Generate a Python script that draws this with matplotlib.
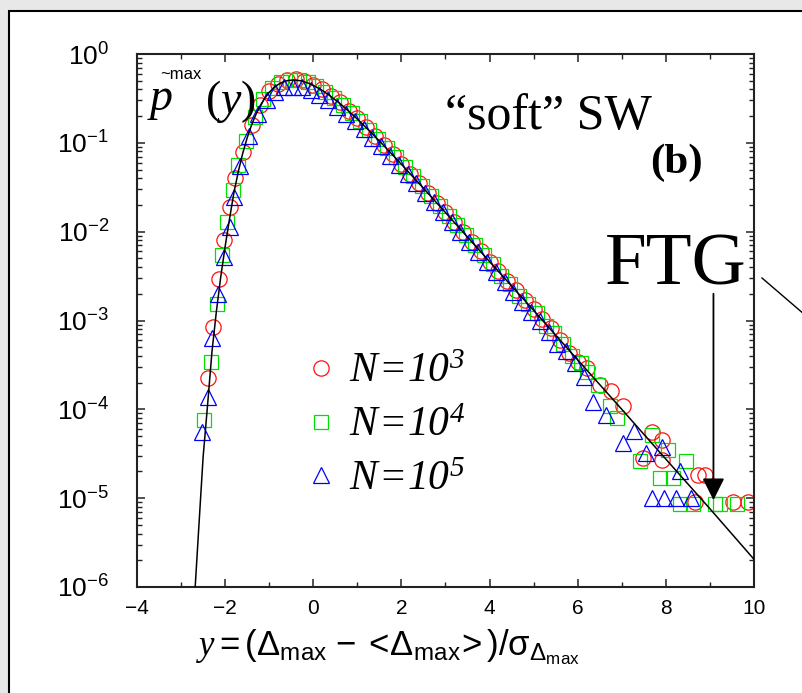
import matplotlib
matplotlib.use('Agg')
import matplotlib.pyplot as plt
from matplotlib.lines import Line2D
from matplotlib.patches import Rectangle
from matplotlib.ticker import LogLocator, MultipleLocator, NullFormatter

plt.rcParams['font.family'] = ['Liberation Sans', 'DejaVu Sans']
plt.rcParams['mathtext.fontset'] = 'custom'
plt.rcParams['mathtext.rm'] = 'Liberation Serif:italic'
plt.rcParams['mathtext.sf'] = 'Liberation Sans'
plt.rcParams['mathtext.it'] = 'Liberation Serif:italic'
plt.rcParams['mathtext.bf'] = 'Liberation Serif:bold'

# FTG curve
fit_x = [-2.72, -2.68, -2.6, -2.5, -2.4, -2.3, -2.2, -2.1, -2.0, -1.9, -1.8, -1.7, -1.6, -1.5,
         -1.4, -1.3, -1.2, -1.1, -1.0, -0.9, -0.8, -0.7, -0.6, -0.5, -0.4, -0.3, -0.2, -0.1,
         0.0, 0.2, 0.4, 0.6, 0.8, 1.0, 1.2, 1.4, 1.6, 1.8, 2.0, 2.5, 3.0, 4.0, 5.0, 6.0, 7.0,
         8.0, 9.0, 10.0]
fit_y = [6e-7, 1e-6, 4.5e-6, 2.9e-5, 1.1e-4, 4.4e-4, 1.25e-3, 3.1e-3, 6.8e-3, 0.014, 0.0276,
         0.0478, 0.0766, 0.114, 0.159, 0.210, 0.265, 0.319, 0.370, 0.416, 0.453, 0.481, 0.500,
         0.508, 0.508, 0.501, 0.486, 0.467, 0.444, 0.390, 0.333, 0.278, 0.228, 0.185, 0.148,
         0.118, 0.093, 0.0731, 0.0573, 0.0308, 0.0164, 4.6e-3, 1.3e-3, 3.6e-4, 1.0e-4, 2.75e-5,
         7.6e-6, 2.05e-6]

# N = 10^3
red_x = [-2.39, -2.28, -2.14, -2.03, -1.89, -1.78, -1.6, -1.4, -1.2, -1.0, -0.8, -0.6, -0.4,
         -0.2, 0.0, 0.2, 0.4, 0.6, 0.8, 1.0, 1.2, 1.4, 1.6, 1.8, 2.0, 2.2, 2.4, 2.6, 2.8, 3.0,
         3.2, 3.4, 3.6, 3.8, 4.0, 4.2, 4.4, 4.6, 4.8, 5.0, 5.2, 5.4, 5.6, 5.8, 6.0, 6.2,
         6.51, 6.75, 7.03, 7.48, 7.69, 7.91, 7.91, 8.66, 8.73, 8.89, 9.52, 9.86]
red_y = [2.25e-4, 8.5e-4, 2.9e-3, 8.1e-3, 0.019, 0.040, 0.078, 0.16, 0.27, 0.38, 0.46, 0.51,
         0.52, 0.50, 0.45, 0.40, 0.34, 0.285, 0.23, 0.19, 0.15, 0.12, 0.094, 0.074, 0.058,
         0.045, 0.035, 0.027, 0.021, 0.0165, 0.0128, 0.0099, 0.0077, 0.0060, 0.0046, 0.0036,
         0.0028, 0.0022, 0.0017, 0.00135, 1.05e-3, 8.2e-4, 6.0e-4, 4.3e-4, 3.4e-4, 2.9e-4,
         1.9e-4, 1.6e-4, 1.1e-4, 2.8e-5, 5.5e-5, 4.5e-5, 2.7e-5, 9e-6, 1.8e-5, 1.8e-5, 9e-6, 9e-6]

# N = 10^4
green_x = [-2.48, -2.32, -2.185, -2.07, -1.96, -1.82, -1.71, -1.53, -1.33, -1.13, -0.93, -0.73,
           -0.53, -0.33, -0.13, 0.07, 0.27, 0.47, 0.67, 0.87, 1.07, 1.27, 1.47, 1.67, 1.87,
           2.07, 2.27, 2.47, 2.67, 2.87, 3.07, 3.27, 3.47, 3.67, 3.87, 4.07, 4.27, 4.47, 4.67,
           4.87, 5.07, 5.27, 5.47, 5.67, 5.87, 6.07, 6.21, 6.45, 6.73, 6.89, 7.41, 7.69, 7.87,
           8.05, 8.16, 8.32, 8.46, 8.62, 9.12, 9.23, 9.61]
green_y = [7.6e-5, 3.4e-4, 1.55e-3, 5.5e-3, 0.0129, 0.0295, 0.056, 0.104, 0.197, 0.31, 0.41,
           0.48, 0.515, 0.51, 0.485, 0.435, 0.375, 0.32, 0.265, 0.215, 0.175, 0.14, 0.111,
           0.087, 0.069, 0.054, 0.042, 0.0325, 0.025, 0.0195, 0.0152, 0.0118, 0.0092, 0.0071,
           0.0055, 0.0043, 0.0032, 0.0026, 0.0019, 0.00155, 1.2e-3, 8.6e-4, 7.2e-4, 5.5e-4,
           4.0e-4, 3.3e-4, 2.6e-4, 1.9e-4, 1.1e-4, 8e-5, 2.6e-5, 5.1e-5, 1.7e-5, 3.5e-5, 1.7e-5,
           8.6e-6, 2.6e-5, 8.6e-6, 8.6e-6, 8.6e-6, 8.6e-6]

# N = 10^5
blue_x = [-2.525, -2.39, -2.30, -2.16, -2.03, -1.89, -1.80, -1.66, -1.46, -1.26, -1.06, -0.86,
          -0.66, -0.46, -0.26, -0.06, 0.14, 0.34, 0.54, 0.74, 0.94, 1.14, 1.34, 1.54, 1.74,
          1.94, 2.14, 2.34, 2.54, 2.74, 2.94, 3.14, 3.34, 3.54, 3.74, 3.94, 4.14, 4.34, 4.54,
          4.74, 4.94, 5.14, 5.34, 5.54, 5.74, 5.94, 6.14, 6.35, 6.64, 7.03, 7.28, 7.55, 7.91,
          8.32, 7.68, 7.95, 8.22, 8.58]
blue_y = [5.6e-5, 1.38e-4, 6.3e-4, 2.0e-3, 5.2e-3, 0.0112, 0.0245, 0.055, 0.12, 0.21, 0.30,
          0.37, 0.42, 0.43, 0.42, 0.39, 0.35, 0.30, 0.255, 0.212, 0.175, 0.142, 0.114, 0.091,
          0.072, 0.057, 0.045, 0.035, 0.0275, 0.0213, 0.0166, 0.0128, 0.0098, 0.0076, 0.0059,
          0.0046, 0.0035, 0.0027, 0.0021, 0.0016, 0.00125, 9.8e-4, 7.4e-4, 5.5e-4, 4.5e-4,
          3.3e-4, 2.3e-4, 1.2e-4, 8.7e-5, 4.2e-5, 5.7e-5, 3.2e-5, 3.8e-5, 2e-5, 1e-5, 1e-5,
          1e-5, 1e-5]

labels = [r'$N\!=\!10^{3}$', r'$N\!=\!10^{4}$', r'$N\!=\!10^{5}$']

W, H = 803, 693
fig = plt.figure(figsize=(W / 100, H / 100), dpi=100)
fig.patch.set_facecolor('#e8e8e8')
fig.add_artist(Rectangle((9 / W, -0.1), 1.1, 1.1 - 11 / H, transform=fig.transFigure,
                         facecolor='white', edgecolor='black', lw=1.5, zorder=-10))

ax = fig.add_axes([137 / W, 1 - 587 / H, 617 / W, 533 / H])
ax.set_facecolor('none')

ax.plot(red_x, red_y, 'o', mfc='none', mec='#ff1010', ms=11, mew=0.9, label=labels[0])
ax.plot(green_x, green_y, 's', mfc='none', mec='#00e000', ms=9.8, mew=0.9, label=labels[1])
ax.plot(blue_x, blue_y, '^', mfc='none', mec='#0000ff', ms=11.2, mew=0.9, label=labels[2])
ax.plot(fit_x, fit_y, '-', color='black', lw=1.1, zorder=5)

ax.set_yscale('log')
ax.set_xlim(-4, 10)
ax.set_ylim(1e-6, 1)
ax.xaxis.set_major_locator(MultipleLocator(2))
ax.xaxis.set_minor_locator(MultipleLocator(1))
ax.yaxis.set_major_locator(LogLocator(base=10, numticks=10))
ax.yaxis.set_minor_locator(LogLocator(base=10, subs=range(2, 10), numticks=10))
ax.yaxis.set_minor_formatter(NullFormatter())

for s in ax.spines.values():
    s.set_linewidth(1.5)
    s.set_color('#222222')
ax.tick_params(which='both', direction='in', top=True, right=True, color='#222222')
ax.tick_params(which='major', length=6, width=1.1)
ax.tick_params(which='minor', length=3.5, width=1.0)
ax.tick_params(axis='x', labelsize=15, pad=9)
ax.tick_params(axis='y', labelsize=19, pad=20)

ax.set_xlabel(r'$\mathit{y}\mathsf{{=}(\Delta_{max}\ {-}\ {<}\!\Delta_{max}\!{>})/\sigma_{\Delta_{max}}}$',
              fontsize=25)
ax.xaxis.set_label_coords(0.407, -0.075)
ax.xaxis.label.set_va('top')

ax.legend(loc='upper left', bbox_to_anchor=(0.272, 0.442), frameon=False, fontsize=30,
          handlelength=0.8, handletextpad=0.27, labelspacing=0.33, borderpad=0, borderaxespad=0)

# p~max(y) label
fig.text(150 / W, 1 - 110 / H, 'p', family='Liberation Serif', style='italic', fontsize=33)
fig.text(160 / W, 1 - 79 / H, '~max', fontsize=12)
fig.text(206 / W, 1 - 113 / H, '(', family='Liberation Serif', fontsize=33)
fig.text(221 / W, 1 - 113 / H, 'y', family='Liberation Serif', style='italic', fontsize=33)
fig.text(241 / W, 1 - 113 / H, ')', family='Liberation Serif', fontsize=33)

fig.text(445 / W, 1 - 129 / H, '\u201csoft\u201d SW', family='Liberation Serif', fontsize=36)
fig.text(650 / W, 1 - 173 / H, '(b)', family='Liberation Serif', weight='bold', fontsize=31)
fig.text(605 / W, 1 - 285 / H, 'FTG', family='Liberation Serif', fontsize=54)

# arrow to the FTG tail
ax.annotate('', xy=(9.08, 9.5e-6), xytext=(9.08, 2.0e-3),
            arrowprops=dict(arrowstyle='-|>,head_length=0.9,head_width=0.45', color='black',
                            lw=1.3, mutation_scale=15, shrinkA=0, shrinkB=0))
fig.add_artist(Line2D([762 / W, 840 / W], [1 - 278 / H, 1 - 345 / H], transform=fig.transFigure,
                      color='black', lw=1.0))

fig.savefig('out.png', dpi=100, facecolor=fig.get_facecolor())
